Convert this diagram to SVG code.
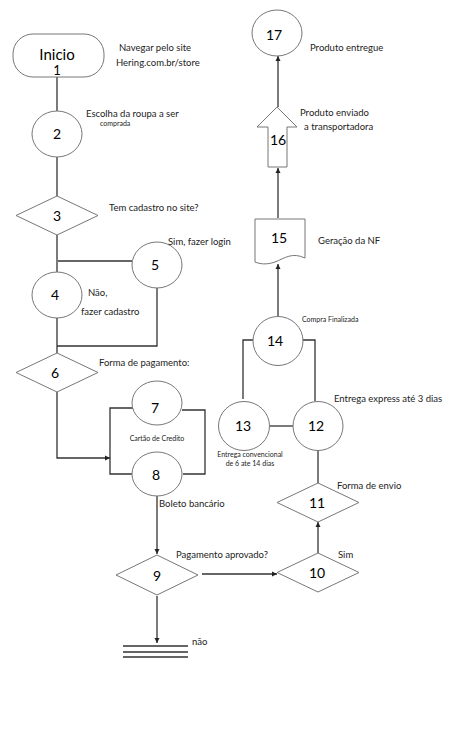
<svg xmlns="http://www.w3.org/2000/svg" width="474" height="732" viewBox="0 0 474 732">
<defs>
<marker id="ah" viewBox="0 0 6 6" refX="6" refY="3" markerWidth="4" markerHeight="4" orient="auto"><path d="M0,0 L6,3 L0,6 z" fill="#222"/></marker>
</defs>
<style>
.s{fill:#fff;stroke:#777;stroke-width:1}
.c{fill:none;stroke:#333;stroke-width:1.3}
.n{font-family:Lato,"Liberation Sans",sans-serif;font-size:14px;fill:#000;text-anchor:middle}
.t{font-family:Lato,"Liberation Sans",sans-serif;font-size:9.5px;fill:#222}
.sm{font-family:Lato,"Liberation Sans",sans-serif;font-size:7px;fill:#222}
</style>
<rect width="474" height="732" fill="#fff"/>
<g id="connectors">
<path class="c" d="M57,77 V111"/>
<path class="c" d="M57,157 V196"/>
<path class="c" d="M57,235 V272"/>
<path class="c" d="M58,261 H132"/>
<path class="c" d="M157,287 V346 H57"/>
<path class="c" d="M57,318 V353"/>
<path class="c" d="M57,392 V458 H110" marker-end="url(#ah)"/>
<path class="c" d="M133,408 H110 V474 H132"/>
<path class="c" d="M182,410 H205 V474 H183"/>
<path class="c" d="M157,496 V554" marker-end="url(#ah)"/>
<path class="c" d="M202,574 H277" marker-end="url(#ah)"/>
<path class="c" d="M157,596 V643" marker-end="url(#ah)"/>
<path class="c" d="M318,553 V522" marker-end="url(#ah)"/>
<path class="c" d="M318,483 V450"/>
<path class="c" d="M270,426 H293"/>
<path class="c" d="M253,340 H243 V399"/>
<path class="c" d="M303,340 H315 V401"/>
<path class="c" d="M278,316 V264" marker-end="url(#ah)"/>
<path class="c" d="M278,218 V168" marker-end="url(#ah)"/>
<path class="c" d="M278,107 V56" marker-end="url(#ah)"/>
<path class="c" d="M123,646 H188 M123,652 H188 M123,657 H188"/>
</g>
<g id="n1"><rect class="s" x="13" y="34" width="91" height="43" rx="20"/><text class="n" x="57" y="60" style="font-size:15px">Inicio</text><text class="n" x="57" y="75" style="font-size:13px">1</text></g>
<g id="n2"><ellipse class="s" cx="57" cy="134" rx="25" ry="23"/><text class="n" x="57" y="139">2</text></g>
<g id="n3"><polygon class="s" points="57,196 98,215.5 57,235 16,215.5"/><text class="n" x="57" y="221">3</text></g>
<g id="n4"><ellipse class="s" cx="57" cy="295" rx="25" ry="23"/><text class="n" x="55" y="300">4</text></g>
<g id="n5"><ellipse class="s" cx="157" cy="265" rx="25" ry="23"/><text class="n" x="155" y="270">5</text></g>
<g id="n6"><polygon class="s" points="57,353 98,372.5 57,392 16,372.5"/><text class="n" x="55" y="378">6</text></g>
<g id="n7"><ellipse class="s" cx="157" cy="403" rx="25" ry="22"/><text class="n" x="155" y="413">7</text></g>
<g id="n8"><ellipse class="s" cx="157" cy="474" rx="25" ry="22"/><text class="n" x="156" y="480">8</text></g>
<g id="n9"><polygon class="s" points="157,555 198,575 157,595 116,575"/><text class="n" x="157" y="581">9</text></g>
<g id="n10"><polygon class="s" points="318,553 359,572.5 318,592 277,572.5"/><text class="n" x="317" y="578">10</text></g>
<g id="n11"><polygon class="s" points="318,483 359,502.5 318,522 277,502.5"/><text class="n" x="317" y="508">11</text></g>
<g id="n12"><ellipse class="s" cx="318" cy="426" rx="25" ry="24.5"/><text class="n" x="316" y="431">12</text></g>
<g id="n13"><ellipse class="s" cx="244" cy="426" rx="25.5" ry="24.5"/><text class="n" x="243" y="431">13</text></g>
<g id="n14"><ellipse class="s" cx="278" cy="341" rx="25" ry="24.5"/><text class="n" x="275" y="346">14</text></g>
<g id="n15"><path class="s" d="M255,219 H305 V258 C292,252 285,258 275,262 C266,265 260,264 255,262 Z"/><text class="n" x="279" y="243">15</text></g>
<g id="n16"><polygon class="s" points="277,107 297,127 287,127 287,167 268,167 268,127 257,127"/><text class="n" x="278" y="145">16</text></g>
<g id="n17"><ellipse class="s" cx="277" cy="33" rx="25" ry="23"/><text class="n" x="274" y="40">17</text></g>
<g id="labels">
<text class="t" x="119" y="51">Navegar pelo site</text>
<text class="t" x="116" y="66">Hering.com.br/store</text>
<text class="t" x="86" y="117">Escolha da roupa a ser</text>
<text class="sm" x="100" y="126">comprada</text>
<text class="t" x="109" y="211">Tem cadastro no site?</text>
<text class="t" x="168" y="245">Sim, fazer login</text>
<text class="t" x="88" y="296">Não,</text>
<text class="t" x="81" y="315">fazer cadastro</text>
<text class="t" x="99" y="366">Forma de pagamento:</text>
<text class="sm" x="157" y="441" text-anchor="middle">Cartão de Credito</text>
<text class="t" x="159" y="507">Boleto bancário</text>
<text class="t" x="176" y="558">Pagamento aprovado?</text>
<text class="t" x="338" y="558">Sim</text>
<text class="t" x="192" y="645">não</text>
<text class="t" x="337" y="489">Forma de envio</text>
<text class="sm" x="250" y="457" text-anchor="middle">Entrega convencional</text>
<text class="sm" x="250" y="466" text-anchor="middle">de 6 ate 14 dias</text>
<text class="t" x="334" y="402">Entrega express até 3 dias</text>
<text class="sm" x="302" y="322">Compra Finalizada</text>
<text class="t" x="318" y="244">Geração da NF</text>
<text class="t" x="300" y="116">Produto enviado</text>
<text class="t" x="304" y="130">a transportadora</text>
<text class="t" x="310" y="51">Produto entregue</text>
</g>
</svg>
